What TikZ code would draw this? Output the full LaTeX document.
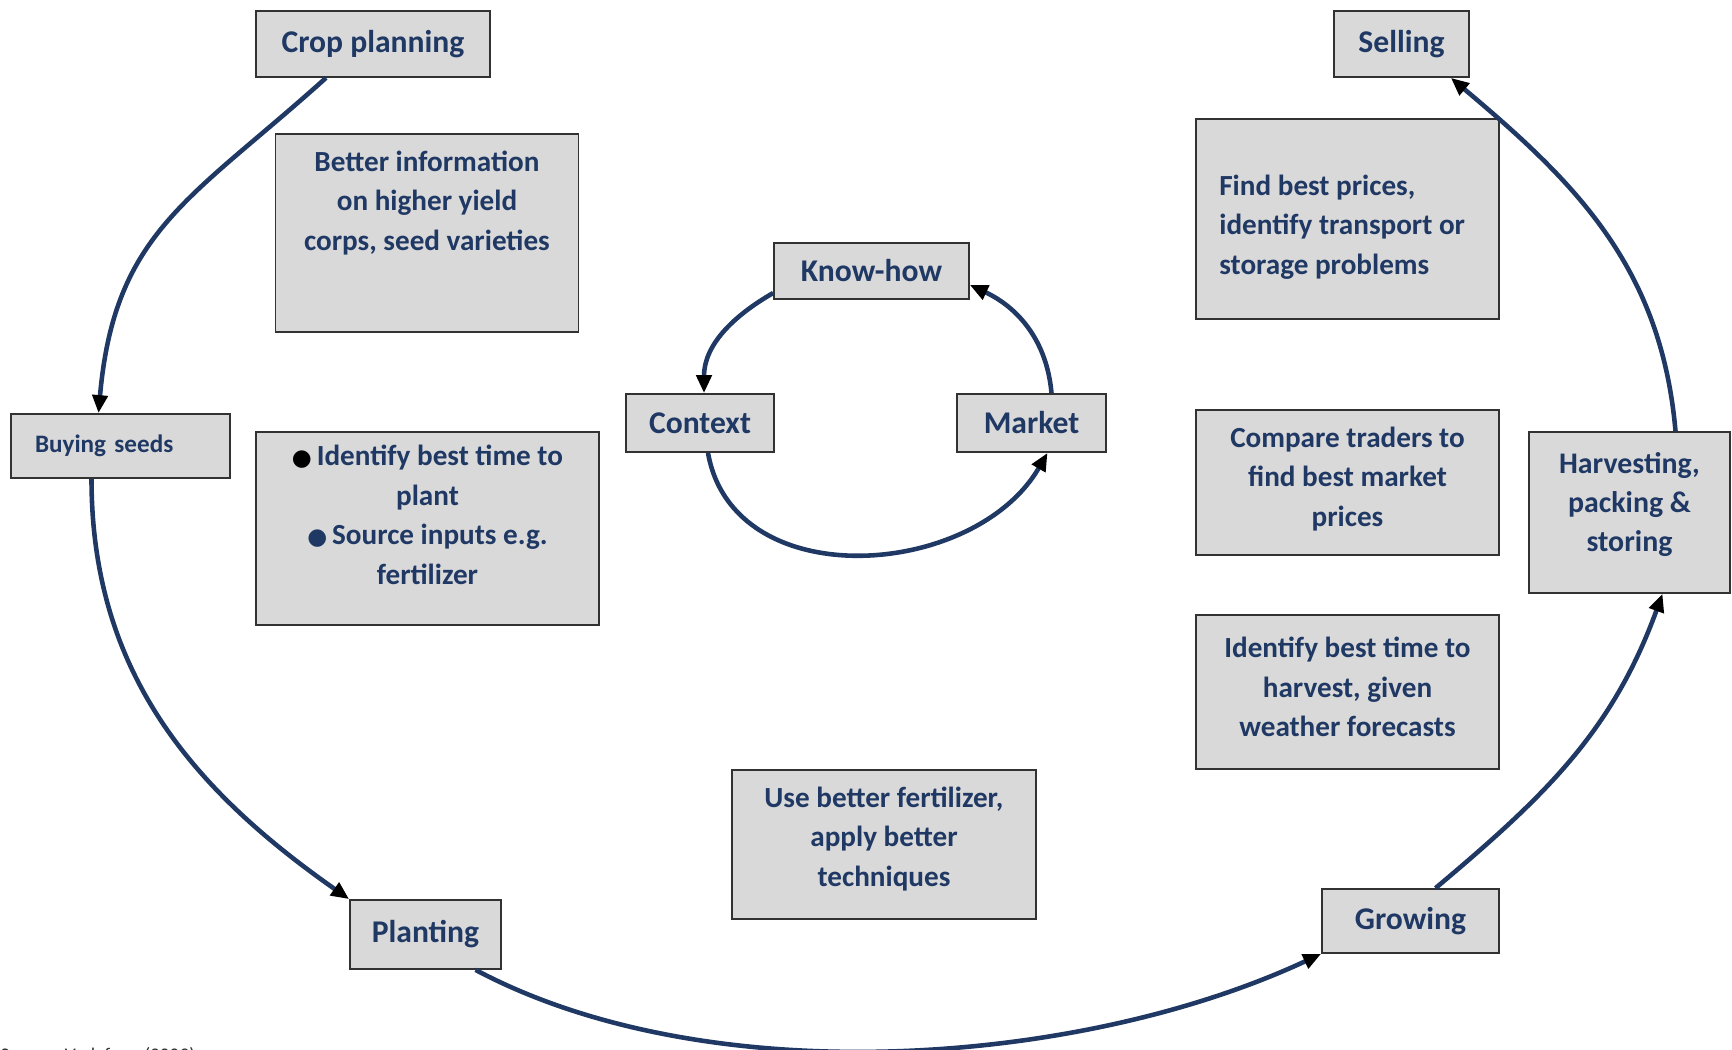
\documentclass[tikz,border=0pt]{standalone}
\usepackage{fontspec}
\setmainfont{Carlito}
\newfontfamily\bulletfont{DejaVu Sans}
\usetikzlibrary{arrows.meta}
\usetikzlibrary{calc}
\definecolor{navy}{RGB}{31,56,100}
\definecolor{boxgray}{RGB}{217,217,217}
\definecolor{boxline}{RGB}{50,50,50}

\begin{document}
\begin{tikzpicture}[x=0.02cm, y=-0.02cm,
	stagenode/.style={rectangle, draw=boxline, line width=1pt, fill=boxgray, inner sep=0pt, text=navy, align=center, font=\fontsize{18}{22}\selectfont\bfseries},
	infobox/.style={rectangle, draw=boxline, line width=1pt, fill=boxgray, inner sep=0pt, minimum width=6.06cm},
	infotext/.style={text=navy, align=center, inner sep=0pt, font=\fontsize{16.6}{22.5}\selectfont\bfseries},
	flow/.style={draw=navy, line width=2.6pt, -{Triangle[length=0.36cm, width=0.3cm, color=black]}},
	]
	\useasboundingbox (0,0) rectangle (1732,1050);
	\clip (0,0) rectangle (1732,1050);

	% Stages
	\node[stagenode, minimum width=4.68cm, minimum height=1.32cm] (crop) at (373,44) {Crop planning};
	\node[stagenode, minimum width=2.7cm, minimum height=1.32cm] (selling) at (1401.5,44) {Selling};
	\node[stagenode, minimum width=4.38cm, minimum height=1.28cm, text width=3.42cm, align=left,
		font=\fontsize{14.3}{16}\selectfont\bfseries] (buying) at (120.5,446) {Buying seeds};
	\node[stagenode, minimum width=3.02cm, minimum height=1.38cm] (planting) at (425.5,934.5) {Planting};
	\node[stagenode, minimum width=3.54cm, minimum height=1.28cm] (growing) at (1410.5,921) {Growing};
	\node[stagenode, minimum width=4.02cm, minimum height=3.22cm,
		font=\fontsize{17}{22}\selectfont\bfseries] (harvest) at (1629.5,512.5) {Harvesting,\\packing \&\\storing\\[-0.35cm]};

	% Inner loop
	\node[stagenode, minimum width=2.96cm, minimum height=1.16cm] (context) at (700,423) {Context};
	\node[stagenode, minimum width=3.9cm, minimum height=1.12cm] (knowhow) at (871.5,271) {Know-how};
	\node[stagenode, minimum width=2.98cm, minimum height=1.16cm] (market) at (1031.5,423) {Market};

	% Info boxes
	\node[infobox, minimum height=3.96cm] (better) at (427,233) {};
	\node[infotext] (better-text) at (427,203) {Better information\\on higher yield\\corps, seed varieties};
	\node[infobox, minimum width=6.86cm, minimum height=3.86cm] (plant) at (427.5,528.5) {};
	\node[infotext] (plant-text) at (427.5,515)
		{{\bulletfont\fontsize{13}{13}\selectfont\color{black}●}\,Identify best time to\\plant\\{\bulletfont\fontsize{13}{13}\selectfont ●}\,Source inputs e.g.\\fertilizer};
	\node[infobox, minimum height=4cm] (prices) at (1347.5,219) {};
	\node[infotext, align=left, anchor=west] (prices-text) at (1219,227)
		{Find best prices,\\identify transport or\\storage problems};
	\node[infobox, minimum height=2.9cm] (traders) at (1347.5,482.5) {};
	\node[infotext] (traders-text) at (1347.5,479) {Compare traders to\\find best market\\prices};
	\node[infobox, minimum height=3.08cm] (forecast) at (1347.5,692) {};
	\node[infotext] (forecast-text) at (1347.5,687) {Identify best time to\\harvest, given\\weather forecasts};
	\node[infobox, minimum width=6.08cm, minimum height=2.98cm] (fert) at (884,844.5) {};
	\node[infotext] (fert-text) at (884,839) {Use better fertilizer,\\apply better\\techniques};

	% Source
	\node[anchor=north west, inner sep=0pt, text=black!80, font=\fontsize{11}{13}\selectfont] (source) at (0,1047)
		{Source: Vodafone (2009)};

	% Outer cycle
	\draw[flow] ($(crop.south)+(-47,0)$) to[out=222, in=85, looseness=1.15] ($(buying.north)+(-22,0)$);
	\draw[flow] ($(buying.south)+(-29,0)$) to[out=270, in=145] (planting.north west);
	\draw[flow] ($(planting.south)+(50,0)$) to[out=-28, in=205, looseness=0.8] (growing.south west);
	\draw[flow] ($(growing.north)+(25,0)$) to[out=40, in=250] ($(harvest.south)+(33,0)$);
	\draw[flow] ($(harvest.north)+(46,0)$) to[out=95, in=-40] ($(selling.south east)+(-19,0)$);

	% Inner cycle
	\draw[flow] ($(knowhow.west)+(0,22)$) to[out=210, in=90] ($(context.north)+(4,0)$);
	\draw[flow] ($(context.south)+(8,0)$) to[out=-80, in=240, looseness=1.1] ($(market.south)+(16,0)$);
	\draw[flow] ($(market.north)+(20,0)$) to[out=95, in=-25] ($(knowhow.east)+(0,14)$);
\end{tikzpicture}
\end{document}
